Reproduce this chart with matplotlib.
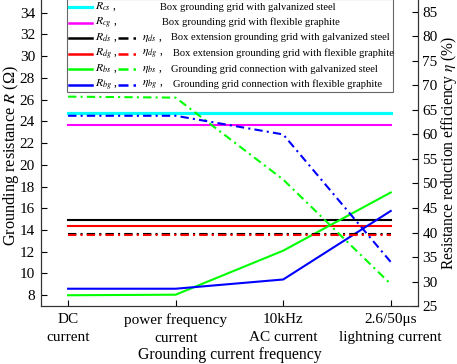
import numpy as np
import matplotlib
matplotlib.use("Agg")
import matplotlib.pyplot as plt
from matplotlib.lines import Line2D
from matplotlib.patches import Rectangle

plt.rcParams['font.family'] = ['Liberation Serif', 'DejaVu Serif']
plt.rcParams['mathtext.fontset'] = 'stix'

categories = ['DC\ncurrent', 'power frequency\ncurrent', '10kHz\nAC current', '2.6/50\u03bcs\nlightning current']

# grounding resistance (left axis, ohm)
R_cs = [24.8, 24.8, 24.8, 24.8]
R_cg = [23.7, 23.7, 23.7, 23.7]
R_ds = [14.95, 14.95, 14.95, 14.95]
R_dg = [14.37, 14.37, 14.37, 14.37]
R_bs = [8.0, 8.05, 12.1, 17.45]
R_bg = [8.6, 8.6, 9.45, 15.75]

# resistance reduction efficiency (right axis, %)
eta_ds = [39.8, 39.8, 39.8, 39.8]
eta_dg = [39.5, 39.5, 39.5, 39.5]
eta_bs = [67.7, 67.5, 50.8, 29.5]
eta_bg = [63.8, 63.8, 60.0, 34.0]

descriptions = ['Box grounding grid with galvanized steel',
                'Box grounding grid with flexible graphite',
                'Box extension grounding grid with galvanized steel',
                'Box extension grounding grid with flexible graphite',
                'Grounding grid connection with galvanized steel',
                'Grounding grid connection with flexible graphite']

x = np.arange(len(categories))
dashdot = (0, (4, 2, 1, 2))
W, H = 457, 364

fig = plt.figure(figsize=(W / 100, H / 100), dpi=100)
ax = fig.add_axes([0.089, 0.159, 0.826, 0.841])
ax2 = ax.twinx()

ax.plot(x, R_cs, color='#00ffff', lw=2.3)
ax.plot(x, R_cg, color='#ff00ff', lw=1.5)
ax.plot(x, R_ds, color='black', lw=1.5)
ax.plot(x, R_dg, color='#ff0000', lw=1.5)
ax.plot(x, R_bs, color='#00ff00', lw=1.5)
ax.plot(x, R_bg, color='#0000ff', lw=1.5)

ax2.plot(x, eta_ds, color='black', lw=1.5, linestyle=dashdot)
ax2.plot(x, eta_dg, color='#ff0000', lw=1.5, linestyle=dashdot)
ax2.plot(x, eta_bs, color='#00ff00', lw=1.5, linestyle=dashdot)
ax2.plot(x, eta_bg, color='#0000ff', lw=1.5, linestyle=dashdot)

ax.set_xlim(-0.255, 3.255)
ax.set_ylim(7, 35.15)
ax2.set_ylim(25, 87.4)
ax.set_yticks(np.arange(8, 35, 2))
ax2.set_yticks(np.arange(25, 86, 5))
ax.set_xticks(x)
ax.set_xticklabels(categories, fontsize=11, linespacing=1.5)
ax.tick_params(axis='x', direction='in', labelsize=11, length=4, pad=5)
ax.tick_params(axis='y', direction='in', labelsize=11, length=4, pad=4)
ax2.tick_params(axis='y', direction='in', labelsize=11, length=4, pad=3)
for a in (ax, ax2):
    a.spines['top'].set_visible(False)
    for s in ('left', 'right', 'bottom'):
        a.spines[s].set_color('#333333')

ax.set_ylabel('Grounding resistance $\\mathit{R}$ (\u03a9)', fontsize=11.7)
ax.yaxis.set_label_coords(-0.052, 0.49)
ax2.set_ylabel('Resistance reduction efficiency $\\mathit{\\eta}$ (%)', fontsize=11.2)
ax2.yaxis.set_label_coords(1.056, 0.5)
ax.set_xlabel('Grounding current frequency', fontsize=11.3, labelpad=0)
ax.xaxis.set_label_coords(0.5, -0.132)

# hand-made legend: R handle, eta handle, description
def px(xp, yp):
    return xp / W, 1 - yp / H

r_colors = ['#00ffff', '#ff00ff', 'black', '#ff0000', '#00ff00', '#0000ff']
r_names = ['cs', 'cg', 'ds', 'dg', 'bs', 'bg']
desc_x = [160, 162, 171, 173, 171, 173]

x0, y0 = px(67, 92)
x1, y1 = px(393, -1)
fig.add_artist(Rectangle((x0, y0), x1 - x0, y1 - y0, transform=fig.transFigure,
                         facecolor='white', edgecolor='#666666', lw=0.8, zorder=5))
for i, (c, n) in enumerate(zip(r_colors, r_names)):
    yr = 7 + i * 15.5
    a, b = px(69, yr)
    e, _ = px(92, yr)
    fig.add_artist(Line2D([a, e], [b, b], color=c, lw=2.3 if n == 'cs' else 1.8,
                          transform=fig.transFigure, zorder=6))
    fig.text(*px(95, yr), '$R_{%s}$ ,' % n, fontsize=8.5, va='center', zorder=6)
    if i >= 2:
        a, _ = px(118, yr)
        e, _ = px(138, yr)
        fig.add_artist(Line2D([a, e], [b, b], color=c, lw=1.8, linestyle=dashdot,
                              transform=fig.transFigure, zorder=6))
        fig.text(*px(142, yr), '$\\eta_{%s}$ ,' % n, fontsize=8.5, va='center', zorder=6)
    fig.text(*px(desc_x[i], yr), descriptions[i], fontsize=7.6, va='center', zorder=6)

fig.savefig('out.png', dpi=100)
